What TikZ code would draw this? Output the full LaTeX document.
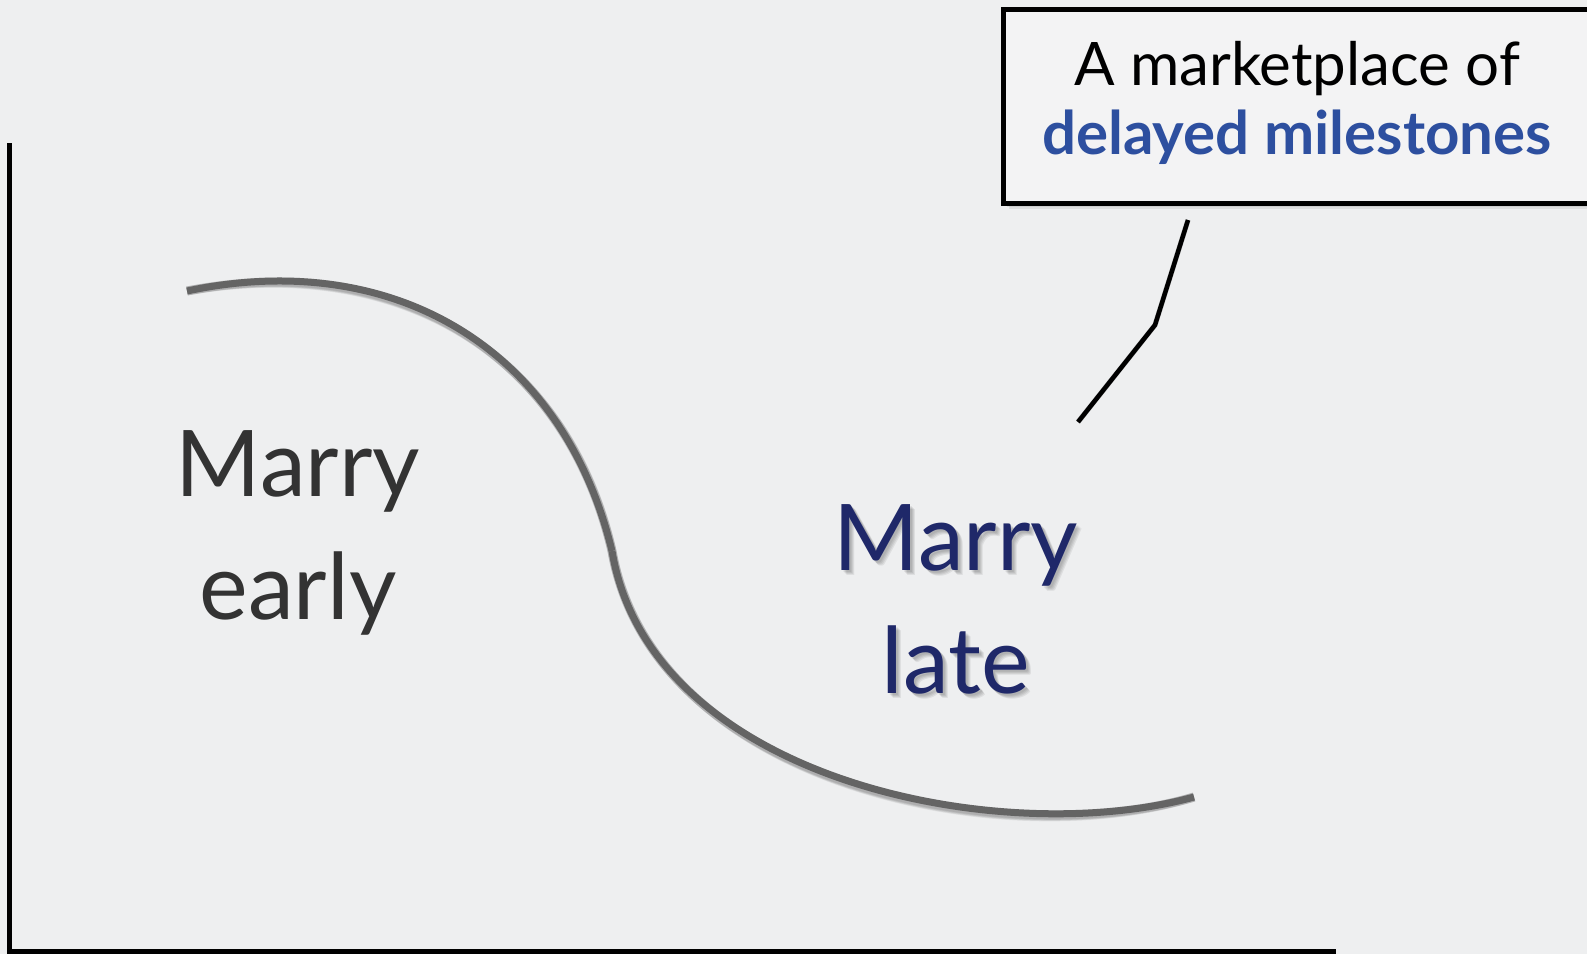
\documentclass[tikz,border=0pt]{standalone}
\usepackage{fontspec}
\setmainfont{Lato}
\definecolor{bg}{HTML}{EEEFF0}
\definecolor{boxfill}{HTML}{F3F3F4}
\definecolor{curvegray}{HTML}{646464}
\definecolor{earlycol}{HTML}{333333}
\definecolor{latecol}{HTML}{1F2869}
\definecolor{msblue}{HTML}{2D4F9F}
\begin{document}
\begin{tikzpicture}[x=1pt,y=-1pt,
  axisline/.style={line width=5pt,black},
  curveline/.style={line width=7pt,curvegray},
  curveshadow/.style={line width=9pt,black,opacity=0.06},
  bigtext/.style={font=\fontsize{92}{110}\selectfont,anchor=base,inner sep=0pt},
  boxtext/.style={font=\fontsize{60}{69}\selectfont,anchor=base,inner sep=0pt},
  callout/.style={draw=black,line width=4.5pt,fill=boxfill,inner sep=0pt},
  pointer/.style={line width=4.5pt,black,line join=round},
  pointershadow/.style={line width=5pt,black,opacity=0.08,line join=round},
  textshadow/.style={bigtext,text=black,opacity=0.07}]
\fill[bg] (0,0) rectangle (1587,954);
\useasboundingbox (0,0) rectangle (1587,954);
% axes
\coordinate (ytop) at (9,143);
\coordinate (origin) at (9,951);
\coordinate (xend) at (1336,951);
\draw[axisline] (ytop) -- (origin) -- (xend);
% curve
\coordinate (c0) at (187,291);
\coordinate (cm) at (612,551);
\coordinate (c1) at (1194,797);
\foreach \o in {1,2,3,4,5}{
  \draw[curveshadow,shift={(\o,\o+1)}] (c0) .. controls (390,248) and (562,345) .. (cm)
     .. controls (650,780) and (1000,850) .. (c1);
}
\draw[curveline] (c0) .. controls (390,248) and (562,345) .. (cm);
\draw[curveline] (cm) .. controls (650,780) and (1000,850) .. (c1);
% callout box shadow
\foreach \o in {2,4,6,8}{
  \fill[black,opacity=0.07] (1001+\o,7+\o) rectangle (1600,201+\o);
}
\node[callout,minimum width=594pt,minimum height=194pt,anchor=north west] (box) at (1001,7) {};
\node[boxtext] (t1) at (1297,85) {A marketplace of};
\node[boxtext,text=msblue,font=\fontsize{60}{69}\selectfont\bfseries] (t2) at (1297,154) {delayed milestones};
% pointer
\coordinate (p0) at (1188,220);
\coordinate (p1) at (1155,325);
\coordinate (p2) at (1078,422);
\foreach \o in {2,3,4,5}{
  \draw[pointershadow,shift={(\o,\o)}] (p0) -- (p1) -- (p2);
}
\draw[pointer] (p0) -- (p1) -- (p2);
% texts
\node[bigtext,text=earlycol] (early1) at (298,496) {Marry};
\node[bigtext,text=earlycol] (early2) at (298,619) {early};
\foreach \o in {2,3,4,5}{
  \node[textshadow] at (956+\o,570+\o) {Marry};
  \node[textshadow] at (956+\o,693+\o) {late};
}
\node[bigtext,text=latecol] (late1) at (956,570) {Marry};
\node[bigtext,text=latecol] (late2) at (956,693) {late};
\end{tikzpicture}
\end{document}
